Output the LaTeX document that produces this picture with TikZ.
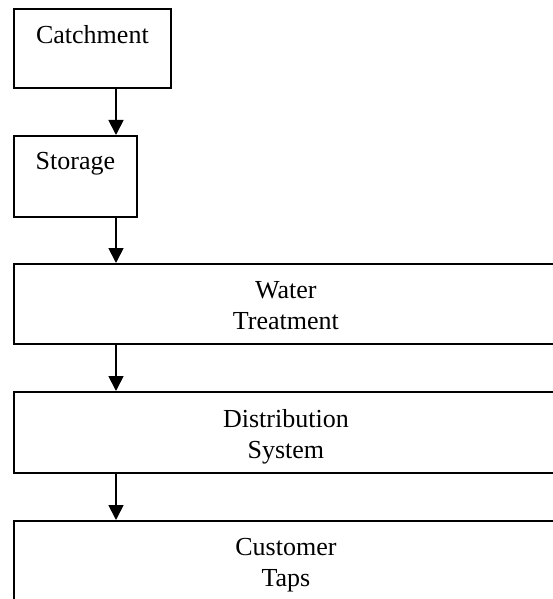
\documentclass[tikz,border=0pt]{standalone}
\usepackage{fontspec}
\setmainfont{Liberation Serif}
\usetikzlibrary{positioning,arrows.meta}

\begin{document}
\begin{tikzpicture}[x=1pt,y=1pt,
  box/.style={draw,line width=1.8pt,anchor=north west,inner sep=0pt},
  lbl/.style={anchor=north,inner sep=0pt,align=center,font=\fontsize{26}{31}\selectfont},
  flow/.style={-{Triangle[length=15pt,width=15pt]},line width=1.8pt}]
\useasboundingbox (0,0) rectangle (552,-599);
% boxes
\node[box,minimum width=157pt,minimum height=79pt] (catch) at (13,-8) {};
\node[box,minimum width=123pt,minimum height=81pt] (stor) at (13,-135) {};
\node[box,minimum width=544pt,minimum height=80pt] (treat) at (13,-263) {};
\node[box,minimum width=544pt,minimum height=81pt] (dist) at (13,-391) {};
\node[box,minimum width=544pt,minimum height=79pt] (taps) at (13,-520) {};
% texts
\node[lbl] (catchtxt) at ([yshift=-17pt]catch.north) {Catchment};
\node[lbl] (stortxt) at ([yshift=-17pt]stor.north) {Storage};
\node[lbl] (treattxt) at ([yshift=-18pt]treat.north) {Water\\Treatment};
\node[lbl] (disttxt) at ([yshift=-18pt]dist.north) {Distribution\\System};
\node[lbl] (tapstxt) at ([yshift=-18pt]taps.north) {Customer\\Taps};
% arrows
\draw[flow] ([xshift=103pt]catch.south west) -- ([xshift=103pt]stor.north west);
\draw[flow] ([xshift=103pt]stor.south west) -- ([xshift=103pt]treat.north west);
\draw[flow] ([xshift=103pt]treat.south west) -- ([xshift=103pt]dist.north west);
\draw[flow] ([xshift=103pt]dist.south west) -- ([xshift=103pt]taps.north west);
\end{tikzpicture}
\end{document}
